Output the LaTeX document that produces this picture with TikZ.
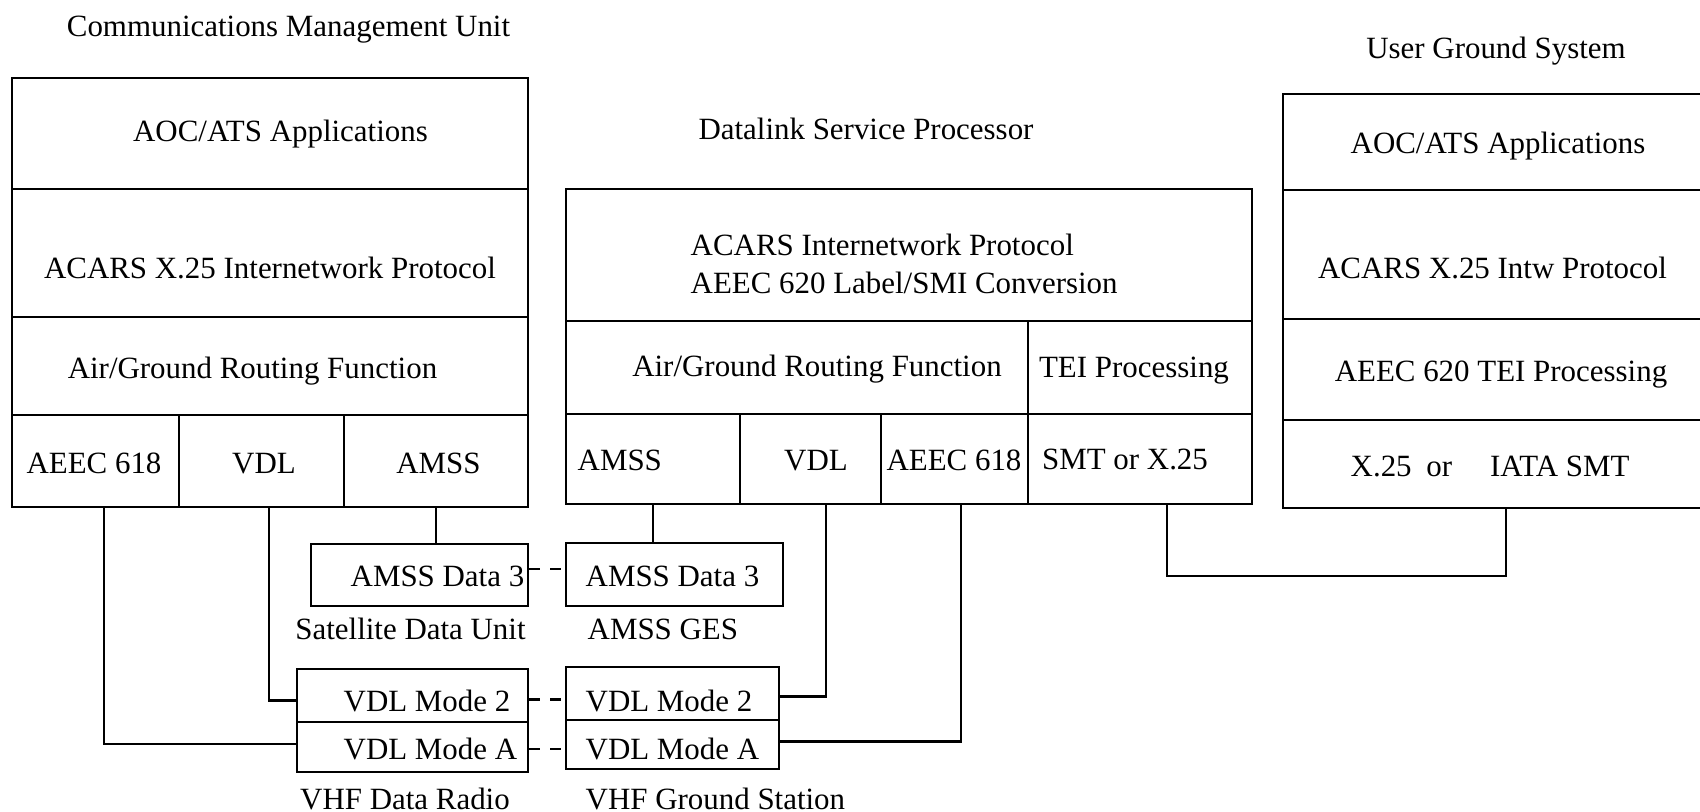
\documentclass[tikz,border=0pt]{standalone}
\usepackage{fontspec}
\setmainfont{Liberation Serif}
\begin{document}
\begin{tikzpicture}[
  cell/.style={draw, line width=0.7pt, inner sep=0pt},
  txt/.style={inner sep=0pt, text height=0.66em, text depth=0pt, font=\fontsize{8.8}{10.5}\selectfont},
  link/.style={line width=0.7pt}]

\useasboundingbox (0,0) rectangle (17,-8.12);

\node[txt] (title-cmu) at (2.885,-0.25) {Communications Management Unit};
\node[txt] (title-dsp) at (8.66,-1.28) {Datalink Service Processor};
\node[txt] (title-ugs) at (14.96,-0.466) {User Ground System};

\node[cell, minimum width=5.16cm, minimum height=1.11cm] (cmu-app) at (2.70,-1.335) {};
\node[cell, minimum width=5.16cm, minimum height=1.28cm] (cmu-acars) at (2.70,-2.53) {};
\node[cell, minimum width=5.16cm, minimum height=0.98cm] (cmu-route) at (2.70,-3.66) {};
\node[cell, minimum width=1.67cm, minimum height=0.92cm] (cmu-618) at (0.955,-4.61) {};
\node[cell, minimum width=1.65cm, minimum height=0.92cm] (cmu-vdl) at (2.615,-4.61) {};
\node[cell, minimum width=1.84cm, minimum height=0.92cm] (cmu-amss) at (4.36,-4.61) {};
\node[txt] (t-cmu-app) at (2.805,-1.30) {AOC/ATS Applications};
\node[txt] (t-cmu-acars) at (2.70,-2.67) {ACARS X.25 Internetwork Protocol};
\node[txt] (t-cmu-route) at (2.525,-3.67) {Air/Ground Routing Function};
\node[txt] (t-cmu-618) at (0.94,-4.615) {AEEC 618};
\node[txt] (t-cmu-vdl) at (2.64,-4.615) {VDL};
\node[txt] (t-cmu-amss) at (4.385,-4.615) {AMSS};

\node[cell, minimum width=6.86cm, minimum height=1.32cm] (dsp-acars) at (9.09,-2.55) {};
\node[cell, minimum width=4.62cm, minimum height=0.93cm] (dsp-route) at (7.97,-3.675) {};
\node[cell, minimum width=2.24cm, minimum height=0.93cm] (dsp-tei) at (11.40,-3.675) {};
\node[cell, minimum width=1.74cm, minimum height=0.90cm] (dsp-amss) at (6.53,-4.59) {};
\node[cell, minimum width=1.41cm, minimum height=0.90cm] (dsp-vdl) at (8.105,-4.59) {};
\node[cell, minimum width=1.47cm, minimum height=0.90cm] (dsp-618) at (9.545,-4.59) {};
\node[cell, minimum width=2.24cm, minimum height=0.90cm] (dsp-smt) at (11.40,-4.59) {};
\node[txt, anchor=west] (t-dsp-acars) at (6.90,-2.44) {ACARS Internetwork Protocol};
\node[txt, anchor=west] (t-dsp-conv) at (6.90,-2.82) {AEEC 620 Label/SMI Conversion};
\node[txt] (t-dsp-route) at (8.17,-3.645) {Air/Ground Routing Function};
\node[txt] (t-dsp-tei) at (11.34,-3.655) {TEI Processing};
\node[txt, anchor=west] (t-dsp-amss) at (5.77,-4.59) {AMSS};
\node[txt] (t-dsp-vdl) at (8.16,-4.59) {VDL};
\node[txt] (t-dsp-618) at (9.54,-4.59) {AEEC 618};
\node[txt] (t-dsp-smt) at (11.25,-4.58) {SMT or X.25};

\node[cell, minimum width=4.30cm, minimum height=0.96cm] (ugs-app) at (14.98,-1.42) {};
\node[cell, minimum width=4.30cm, minimum height=1.29cm] (ugs-acars) at (14.98,-2.545) {};
\node[cell, minimum width=4.30cm, minimum height=1.01cm] (ugs-tei) at (14.98,-3.695) {};
\node[cell, minimum width=4.30cm, minimum height=0.88cm] (ugs-x25) at (14.98,-4.64) {};
\node[txt] (t-ugs-app) at (14.98,-1.42) {AOC/ATS Applications};
\node[txt] (t-ugs-acars) at (14.925,-2.67) {ACARS X.25 Intw Protocol};
\node[txt] (t-ugs-tei) at (15.01,-3.70) {AEEC 620 TEI Processing};
\node[txt, anchor=west] (t-ugs-x25) at (13.50,-4.65) {X.25\hspace{0.147cm}or\hspace{0.38cm}IATA SMT};

\node[cell, minimum width=2.17cm, minimum height=0.62cm] (sdu) at (4.195,-5.75) {};
\node[cell, minimum width=2.17cm, minimum height=0.63cm] (ges) at (6.745,-5.745) {};
\node[txt, anchor=west] (t-sdu) at (3.50,-5.75) {AMSS Data 3};
\node[txt, anchor=west] (t-ges) at (5.85,-5.75) {AMSS Data 3};
\node[txt] (l-sdu) at (4.105,-6.28) {Satellite Data Unit};
\node[txt, anchor=west] (l-ges) at (5.87,-6.28) {AMSS GES};

\node[cell, minimum width=2.31cm, minimum height=0.53cm] (vdr-2) at (4.125,-6.955) {};
\node[cell, minimum width=2.31cm, minimum height=0.50cm] (vdr-a) at (4.125,-7.47) {};
\node[cell, minimum width=2.13cm, minimum height=0.53cm] (vgs-2) at (6.725,-6.935) {};
\node[cell, minimum width=2.13cm, minimum height=0.49cm] (vgs-a) at (6.725,-7.445) {};
\node[txt, anchor=west] (t-vdr-2) at (3.43,-7.00) {VDL Mode 2};
\node[txt, anchor=west] (t-vdr-a) at (3.43,-7.48) {VDL Mode A};
\node[txt, anchor=west] (t-vgs-2) at (5.85,-7.00) {VDL Mode 2};
\node[txt, anchor=west] (t-vgs-a) at (5.85,-7.48) {VDL Mode A};
\node[txt] (l-vdr) at (4.05,-7.98) {VHF Data Radio};
\node[txt, anchor=west] (l-vgs) at (5.85,-7.98) {VHF Ground Station};

\draw[link] ([xshift=0.085cm]cmu-618.south) |- ([yshift=0.03cm]vdr-a.west);
\draw[link] ([xshift=0.075cm]cmu-vdl.south) |- ([yshift=-0.05cm]vdr-2.west);
\draw[link] (cmu-amss.south) -- (cmu-amss.south |- sdu.north);
\draw[link] (dsp-amss.south) -- (dsp-amss.south |- ges.north);
\draw[link] ([xshift=0.155cm]dsp-vdl.south) |- ([yshift=-0.03cm]vgs-2.east);
\draw[link] ([xshift=0.065cm]dsp-618.south) |- ([yshift=0.03cm]vgs-a.east);
\draw[link] ([xshift=0.27cm]dsp-smt.south) -- ++(0,-0.71) -| ([xshift=0.08cm]ugs-x25.south);

\draw[link, dashed] ([yshift=0.06cm]sdu.east) -- ([yshift=0.06cm]sdu.east -| ges.west);
\draw[link, dashed] ([yshift=-0.04cm]vdr-2.east) -- ([yshift=-0.04cm]vdr-2.east -| vgs-2.west);
\draw[link, dashed] ([yshift=-0.02cm]vdr-a.east) -- ([yshift=-0.02cm]vdr-a.east -| vgs-a.west);

\end{tikzpicture}
\end{document}
